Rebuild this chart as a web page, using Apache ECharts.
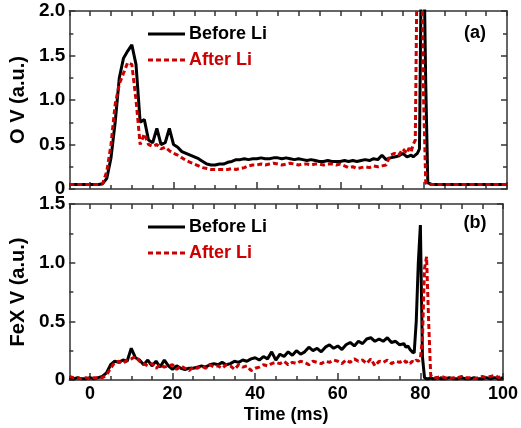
<!DOCTYPE html>
<html>
<head>
<meta charset="utf-8">
<script src="https://cdn.jsdelivr.net/npm/echarts@6/dist/echarts.min.js"></script>
<style>
  html, body { margin: 0; padding: 0; background: #fff; }
  #chartDiv { width: 521px; height: 428px; }
</style>
</head>
<body>
<div id="chartDiv"></div>
<script>
// time base (ms), finer steps around the disruption at ~80 ms
var timeMs = [-5,-4,-3,-2,-1,0,1,2,3,4,5,6,7,8,9,10,11,12,13,14,15,16,17,18,19,
  20,21,22,23,24,25,26,27,28,29,30,31,32,33,34,35,36,37,38,39,
  40,41,42,43,44,45,46,47,48,49,50,51,52,53,54,55,56,57,58,59,
  60,61,62,63,64,65,66,67,68,69,70,71,72,73,74,75,76,
  76.5,77,77.5,78,78.5,79,79.5,80,80.5,81,81.5,82,82.5,83,83.5,
  84,85,86,87,88,89,90,91,92,93,94,95,96,97,98,99,100];

// (a) O V
var ovBefore = [0.05,0.05,0.05,0.05,0.05,0.05,0.05,0.05,0.06,0.12,0.35,0.75,1.25,1.47,1.55,1.62,1.4,0.75,0.78,0.55,
  0.52,0.68,0.5,0.52,0.68,0.5,0.47,0.42,0.4,0.38,0.36,0.34,0.31,0.28,0.27,0.27,0.28,0.28,0.3,0.31,
  0.33,0.33,0.34,0.33,0.34,0.34,0.35,0.34,0.34,0.35,0.35,0.34,0.35,0.34,0.33,0.34,0.33,0.32,0.33,0.32,
  0.31,0.31,0.32,0.31,0.31,0.31,0.32,0.31,0.32,0.31,0.32,0.33,0.32,0.34,0.33,0.38,0.33,0.35,0.36,0.37,
  0.4,0.36,
  0.37,0.38,0.36,0.38,0.4,0.45,2.8,2.8,1.2,0.07,0.06,0.05,0.05,0.05,0.05,
  0.05,0.05,0.05,0.05,0.05,0.05,0.05,0.05,0.05,0.05,0.05,0.05,0.05,0.05,0.05,0.05,0.05];
var ovAfter = [0.05,0.05,0.05,0.05,0.05,0.05,0.05,0.05,0.06,0.2,0.5,0.95,1.18,1.3,1.42,1.4,1.0,0.5,0.62,0.5,
  0.48,0.5,0.45,0.47,0.43,0.4,0.38,0.35,0.32,0.3,0.28,0.26,0.24,0.23,0.22,0.22,0.22,0.22,0.22,0.23,
  0.22,0.23,0.24,0.26,0.27,0.27,0.28,0.27,0.28,0.29,0.28,0.27,0.28,0.29,0.28,0.27,0.28,0.28,0.27,0.28,
  0.28,0.27,0.28,0.28,0.27,0.28,0.26,0.24,0.25,0.23,0.24,0.25,0.24,0.26,0.25,0.26,0.27,0.38,0.4,0.38,
  0.45,0.4,
  0.46,0.42,0.5,0.55,2.8,2.8,2.8,1.0,0.07,0.05,0.05,0.05,0.05,0.05,0.05,
  0.05,0.05,0.05,0.05,0.05,0.05,0.05,0.05,0.05,0.05,0.05,0.05,0.05,0.05,0.05,0.05,0.05];

// (b) FeX V
var fexBefore = [0.02,0.01,0.02,0.01,0.01,0.02,0.01,0.02,0.03,0.06,0.13,0.16,0.15,0.17,0.16,0.27,0.19,0.17,0.13,0.17,
  0.12,0.16,0.11,0.17,0.12,0.09,0.12,0.1,0.09,0.1,0.1,0.11,0.12,0.11,0.13,0.14,0.13,0.15,0.13,0.14,
  0.16,0.15,0.17,0.16,0.18,0.19,0.17,0.2,0.18,0.24,0.17,0.22,0.2,0.24,0.21,0.25,0.22,0.24,0.28,0.25,
  0.27,0.24,0.28,0.3,0.27,0.29,0.26,0.3,0.32,0.29,0.33,0.31,0.35,0.36,0.33,0.35,0.33,0.36,0.32,0.33,
  0.3,0.31,
  0.28,0.29,0.26,0.24,0.23,0.5,1.0,1.32,0.2,0.02,0.01,0.01,0.02,0.01,0.01,
  0.02,0.01,0.01,0.02,0.01,0.01,0.02,0.01,0.01,0.02,0.01,0.01,0.02,0.01,0.02,0.01,0.02];
var fexAfter = [0.03,0.02,0.02,0.01,0.02,0.01,0.02,0.02,0.02,0.04,0.1,0.15,0.16,0.14,0.17,0.18,0.2,0.16,0.14,0.12,
  0.14,0.1,0.13,0.11,0.12,0.13,0.09,0.12,0.1,0.08,0.11,0.1,0.12,0.1,0.13,0.11,0.12,0.1,0.13,0.12,
  0.09,0.13,0.11,0.12,0.08,0.1,0.11,0.13,0.12,0.14,0.15,0.14,0.16,0.13,0.15,0.14,0.16,0.15,0.13,0.16,
  0.15,0.14,0.16,0.15,0.17,0.16,0.14,0.17,0.15,0.18,0.16,0.17,0.14,0.18,0.12,0.16,0.15,0.17,0.14,0.16,
  0.15,0.17,
  0.15,0.16,0.14,0.16,0.15,0.17,0.16,0.18,0.35,0.95,1.05,0.5,0.04,0.02,0.02,
  0.02,0.03,0.02,0.01,0.02,0.02,0.03,0.02,0.02,0.01,0.02,0.03,0.02,0.03,0.04,0.02,0.04];

var xMajorTicks = [0, 20, 40, 60, 80, 100];
var seriesNames = ['Before Li', 'After Li'];
var panelLabels = ['(a)', '(b)'];
var yTitles = ['O V (a.u.)', 'FeX V (a.u.)'];
var yMax = [2, 1.5];

var FONT = '"Liberation Sans", Arial, sans-serif';
var RED = '#cc0000';
var AXIS_COLOR = '#333';

function pairs(vals){
  var out = [];
  for (var i = 0; i < timeMs.length; i++) out.push([timeMs[i], vals[i]]);
  return out;
}

var grids = [
  {left: 63, right: 14, top: 11, height: 178},
  {left: 63, right: 14, top: 204, height: 176}
];

var xAxes = [], yAxes = [];
for (var g = 0; g < 2; g++) {
  // major ticks + labels
  xAxes.push({
    gridIndex: g, type: 'value', min: -5, max: 100, position: 'bottom',
    name: g === 1 ? 'Time (ms)' : '', nameLocation: 'middle', nameGap: 26,
    nameTextStyle: {fontFamily: FONT, fontWeight: 'bold', fontSize: 18, color: '#000'},
    axisLine: {onZero: false, lineStyle: {color: AXIS_COLOR, width: 1.5}},
    axisTick: {inside: true, length: 7, customValues: xMajorTicks, lineStyle: {color: AXIS_COLOR, width: 1.5}},
    axisLabel: {show: g === 1, customValues: xMajorTicks, margin: 5, fontFamily: FONT, fontWeight: 'bold', fontSize: 18, color: '#000'},
    splitLine: {show: false}
  });
  // minor ticks every 5 ms
  xAxes.push({
    gridIndex: g, type: 'value', min: -5, max: 100, interval: 5, position: 'bottom',
    axisLine: {show: false},
    axisTick: {inside: true, length: 4, lineStyle: {color: AXIS_COLOR, width: 1.5}},
    axisLabel: {show: false}, splitLine: {show: false}
  });
  // mirrored top
  xAxes.push({
    gridIndex: g, type: 'value', min: -5, max: 100, interval: 5, position: 'top',
    axisLine: {onZero: false, lineStyle: {color: AXIS_COLOR, width: 1.5}},
    axisTick: {inside: true, length: 5, lineStyle: {color: AXIS_COLOR, width: 1.5}},
    axisLabel: {show: false}, splitLine: {show: false}
  });
  yAxes.push({
    gridIndex: g, type: 'value', min: 0, max: yMax[g], interval: 0.5, position: 'left',
    name: yTitles[g], nameLocation: 'middle', nameGap: 37,
    nameTextStyle: {fontFamily: FONT, fontWeight: 'bold', fontSize: 20, color: '#000'},
    axisLine: {onZero: false, lineStyle: {color: AXIS_COLOR, width: 1.5}},
    axisTick: {inside: true, length: 6, lineStyle: {color: AXIS_COLOR, width: 1.5}},
    minorTick: {show: true, splitNumber: 2, length: 4, lineStyle: {color: AXIS_COLOR, width: 1.5}},
    axisLabel: {margin: 4, fontFamily: FONT, fontWeight: 'bold', fontSize: 19, color: '#000',
      formatter: function(v){ return v === 0 ? '0' : v.toFixed(1); }},
    splitLine: {show: false}, minorSplitLine: {show: false}
  });
  yAxes.push({
    gridIndex: g, type: 'value', min: 0, max: yMax[g], interval: 0.5, position: 'right',
    axisLine: {onZero: false, lineStyle: {color: AXIS_COLOR, width: 1.5}},
    axisTick: {inside: true, length: 6, lineStyle: {color: AXIS_COLOR, width: 1.5}},
    minorTick: {show: true, splitNumber: 2, length: 4, lineStyle: {color: AXIS_COLOR, width: 1.5}},
    axisLabel: {show: false},
    splitLine: {show: false}, minorSplitLine: {show: false}
  });
}

function lineSeries(name, vals, xi, yi, color, dashed){
  return {
    name: name, type: 'line', xAxisIndex: xi, yAxisIndex: yi,
    data: pairs(vals), symbol: 'none', clip: true,
    lineStyle: {color: color, width: 3, type: dashed ? [5, 3] : 'solid'},
    itemStyle: {color: color}
  };
}

// legend drawn by hand (line sample + label) for each panel
function legendItems(yTop){
  var items = [];
  var styles = [{stroke: '#000', dash: null}, {stroke: RED, dash: [5, 3]}];
  for (var k = 0; k < 2; k++) {
    var y = yTop + k * 26;
    items.push({type: 'line', shape: {x1: 148, y1: y, x2: 185, y2: y},
      style: {stroke: styles[k].stroke, lineWidth: 3, lineDash: styles[k].dash}});
    items.push({type: 'text', x: 189, y: y,
      style: {text: seriesNames[k], font: 'bold 18px ' + FONT, fill: k === 0 ? '#000' : RED,
        textAlign: 'left', textVerticalAlign: 'middle'}});
  }
  return items;
}

option = {
  animation: false,
  backgroundColor: '#fff',
  grid: grids,
  xAxis: xAxes,
  yAxis: yAxes,
  graphic: legendItems(34).concat(legendItems(227)).concat([
    {type: 'text', x: 475, y: 33, style: {text: panelLabels[0], font: 'bold 18px ' + FONT, fill: '#000', textAlign: 'center', textVerticalAlign: 'middle'}},
    {type: 'text', x: 475, y: 223, style: {text: panelLabels[1], font: 'bold 18px ' + FONT, fill: '#000', textAlign: 'center', textVerticalAlign: 'middle'}}
  ]),
  series: [
    lineSeries(seriesNames[0], ovBefore, 0, 0, '#000', false),
    lineSeries(seriesNames[1], ovAfter, 0, 0, RED, true),
    lineSeries(seriesNames[0], fexBefore, 3, 2, '#000', false),
    lineSeries(seriesNames[1], fexAfter, 3, 2, RED, true)
  ]
};

var myChart = echarts.init(document.getElementById('chartDiv'));
myChart.setOption(option, true);
</script>
</body>
</html>
